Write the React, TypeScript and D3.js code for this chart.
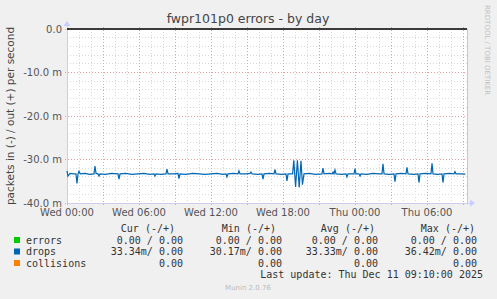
import React from "react";
import * as d3 from "d3";

const title = "fwpr101p0 errors - by day";
const yLabel = "packets in (-) / out (+) per second";
const yTicks = [0, -10, -20, -30, -40];
const yTickLabels = ["0.0", "-10.0 m", "-20.0 m", "-30.0 m", "-40.0 m"];
const xTickHours = [0, 6, 12, 18, 24, 30];
const xTickLabels = ["Wed 00:00", "Wed 06:00", "Wed 12:00", "Wed 18:00", "Thu 00:00", "Thu 06:00"];

// [hours since Wed 00:00, drops in (milli-packets/s)]
const dropsIn: [number, number][] = [
  [0.0, 32.6], [0.08, 33.8], [0.25, 33.2], [0.5, 33.3], [0.75, 33.3], [0.83, 35.5], [0.92, 33.3],
  [1.0, 32.7], [1.1, 33.3], [1.5, 33.2], [1.9, 33.4], [2.25, 33.3], [2.33, 31.5], [2.42, 33.2],
  [2.58, 33.3], [2.67, 33.8], [2.75, 33.3], [3.2, 33.4], [3.7, 33.2], [4.25, 33.3], [4.33, 34.5],
  [4.42, 33.3], [4.9, 33.2], [5.4, 33.4], [5.9, 33.3], [6.4, 33.2], [6.9, 33.4], [7.25, 33.3],
  [7.33, 33.8], [7.42, 33.3], [7.8, 33.4], [8.25, 33.3], [8.33, 32.2], [8.42, 33.3], [8.9, 33.3],
  [9.25, 33.2], [9.33, 34.4], [9.42, 33.3], [9.9, 33.4], [10.5, 33.2], [11.0, 33.3], [11.5, 33.4],
  [12.0, 33.3], [12.5, 33.2], [13.0, 33.4], [13.25, 33.3], [13.33, 34.0], [13.42, 33.3], [13.9, 33.2],
  [14.25, 33.3], [14.33, 32.6], [14.42, 33.3], [14.9, 33.3], [15.25, 33.2], [15.33, 32.9], [15.42, 33.3],
  [15.9, 33.4], [16.25, 33.3], [16.33, 34.5], [16.42, 33.3], [16.9, 33.2], [17.25, 33.3], [17.33, 32.3],
  [17.42, 33.3], [17.9, 33.4], [18.25, 33.3], [18.33, 34.9], [18.42, 33.3], [18.8, 33.3], [18.9, 30.2],
  [19.05, 36.3], [19.2, 30.17], [19.35, 36.42], [19.5, 30.3], [19.62, 35.8], [19.75, 33.3], [20.2, 33.2],
  [20.7, 33.4], [21.25, 33.3], [21.33, 32.0], [21.42, 33.3], [21.9, 33.2], [22.1, 33.3], [22.17, 32.9],
  [22.25, 33.3], [22.33, 32.4], [22.42, 33.3], [22.9, 33.4], [23.25, 33.3], [23.33, 34.0], [23.42, 33.3],
  [23.92, 33.3], [24.0, 32.1], [24.08, 33.3], [24.33, 33.3], [24.42, 33.8], [24.5, 33.3], [25.0, 33.4],
  [25.5, 33.2], [26.0, 33.3], [26.25, 33.3], [26.33, 31.0], [26.42, 33.3], [26.9, 33.4], [27.25, 33.3],
  [27.33, 35.1], [27.42, 33.3], [27.9, 33.2], [28.25, 33.3], [28.33, 31.8], [28.42, 33.3], [28.9, 33.4],
  [29.25, 33.3], [29.33, 35.3], [29.42, 33.3], [29.9, 33.2], [30.33, 33.3], [30.42, 30.9], [30.5, 33.3],
  [30.9, 33.4], [31.25, 33.3], [31.33, 35.3], [31.42, 33.3], [31.9, 33.2], [32.25, 33.3], [32.33, 32.8],
  [32.42, 33.3], [32.9, 33.3], [33.2, 33.34],
];

const legendNames = ["errors", "drops", "collisions"];
const legendColors = ["#00CC00", "#0066B3", "#FF8000"];
const legendHeaders = ["Cur (-/+)", "Min (-/+)", "Avg (-/+)", "Max (-/+)"];
const legendCur = [" 0.00 / 0.00", "33.34m/ 0.00", "0.00"];
const legendMin = [" 0.00 / 0.00", "30.17m/ 0.00", "0.00"];
const legendAvg = [" 0.00 / 0.00", "33.33m/ 0.00", "0.00"];
const legendMax = [" 0.00 / 0.00", "36.42m/ 0.00", "0.00"];
const lastUpdate = "Last update: Thu Dec 11 09:10:00 2025";
const version = "Munin 2.0.76";
const watermark = "RRDTOOL / TOBI OETIKER";

export default function App() {
  const W = 497, H = 299;
  const left = 67, right = 467, top = 29, bottom = 203;
  const x = d3.scaleLinear().domain([0, 33.3333]).range([left, right]);
  const y = d3.scaleLinear().domain([0, -40]).range([top, bottom]);

  const minorX = d3.range(0, 34, 1).filter((h) => h % 3 !== 0);
  const majorX = d3.range(0, 34, 3);
  const minorY = d3.range(0, -41, -2).filter((v) => v % 10 !== 0);
  const majorY = yTicks;

  const line = d3
    .line<[number, number]>()
    .x((d) => x(d[0]))
    .y((d) => y(-d[1]));

  const mono = "'DejaVu Sans Mono', monospace";
  const sans = "'DejaVu Sans', sans-serif";
  const colEnds = [183, 282, 378, 477];
  const headerEnds = [175, 276, 375, 475];
  const cols = [legendCur, legendMin, legendAvg, legendMax];
  const rowY = [243.5, 255, 266.5];

  return (
    <svg width={W} height={H} style={{ position: "absolute", left: 0, top: 0, display: "block" }}>
      <rect x={0} y={0} width={W} height={H} fill="#F0F0F0" />
      <rect x={left} y={top} width={right - left} height={bottom - top} fill="#FFFFFF" />

      {minorX.map((h) => (
        <line key={"mx" + h} x1={x(h)} x2={x(h)} y1={top} y2={bottom} stroke="#D8D8D8" strokeWidth={1} strokeDasharray="1,2" shapeRendering="crispEdges" />
      ))}
      {minorY.map((v) => (
        <line key={"my" + v} x1={left} x2={right} y1={y(v)} y2={y(v)} stroke="#D8D8D8" strokeWidth={1} strokeDasharray="1,2" shapeRendering="crispEdges" />
      ))}
      {majorX.map((h) => (
        <line key={"Mx" + h} x1={x(h)} x2={x(h)} y1={top - 2} y2={bottom + 2} stroke="#E8A0A0" strokeWidth={1} strokeDasharray="1,2" shapeRendering="crispEdges" />
      ))}
      {majorY.map((v) => (
        <line key={"My" + v} x1={left - 2} x2={right + 2} y1={y(v)} y2={y(v)} stroke="#E8A0A0" strokeWidth={1} strokeDasharray="1,2" shapeRendering="crispEdges" />
      ))}

      {/* axes */}
      <line x1={left} x2={right + 4} y1={bottom} y2={bottom} stroke="#CCCCEE" strokeWidth={1} shapeRendering="crispEdges" />
      <line x1={left} x2={left} y1={top - 5} y2={bottom} stroke="#CCCCEE" strokeWidth={1} shapeRendering="crispEdges" />
      <line x1={right} x2={right} y1={top} y2={bottom} stroke="#C8C8C8" strokeWidth={1} shapeRendering="crispEdges" />
      <path d={`M${right + 3},${bottom - 3.5} L${right + 8},${bottom} L${right + 3},${bottom + 3.5} Z`} fill="#C8CCFF" />
      <path d={`M${left - 3.5},${top - 3} L${left},${top - 8} L${left + 3.5},${top - 3} Z`} fill="#C8CCFF" />

      {/* zero line */}
      <line x1={left} x2={right} y1={y(0)} y2={y(0)} stroke="#000000" strokeWidth={1.5} />

      <path d={line(dropsIn) || ""} fill="none" stroke="#0066B3" strokeWidth={1.2} />

      {/* title */}
      <text x={248} y={23} textAnchor="middle" fontFamily={sans} fontSize={12.5} fill="#444">{title}</text>

      {/* y label */}
      <text transform={`translate(14,${(top + bottom) / 2}) rotate(-90)`} textAnchor="middle" fontFamily={sans} fontSize={10.5} fill="#444">{yLabel}</text>

      {yTicks.map((v, i) => (
        <text key={"yt" + v} x={left - 5} y={y(v) + 3.5} textAnchor="end" fontFamily={sans} fontSize={10} fill="#555">{yTickLabels[i]}</text>
      ))}
      {xTickHours.map((h, i) => (
        <text key={"xt" + h} x={x(h)} y={216} textAnchor="middle" fontFamily={sans} fontSize={10} fill="#555">{xTickLabels[i]}</text>
      ))}

      {/* watermark */}
      <text transform="translate(485,5) rotate(90)" fontFamily={sans} fontSize={7} fill="#C0C0C0">{watermark}</text>

      {/* legend */}
      {legendHeaders.map((hd, i) => (
        <text key={"hd" + i} x={headerEnds[i]} y={232} textAnchor="end" fontFamily={mono} fontSize={10} fill="#333" style={{ whiteSpace: "pre" }}>{hd}</text>
      ))}
      {legendNames.map((n, r) => (
        <g key={"lg" + n}>
          <rect x={14} y={rowY[r] - 6.5} width={6} height={6} fill={legendColors[r]} />
          <text x={26} y={rowY[r]} fontFamily={mono} fontSize={10} fill="#333" style={{ whiteSpace: "pre" }}>{n}</text>
          {cols.map((c, ci) => (
            <text key={"c" + ci} x={colEnds[ci]} y={rowY[r]} textAnchor="end" fontFamily={mono} fontSize={10} fill="#333" style={{ whiteSpace: "pre" }}>{c[r]}</text>
          ))}
        </g>
      ))}
      <text x={483} y={278} textAnchor="end" fontFamily={mono} fontSize={10} fill="#333" style={{ whiteSpace: "pre" }}>{lastUpdate}</text>
      <text x={248} y={290} textAnchor="middle" fontFamily={sans} fontSize={7} fill="#BBBBBB">{version}</text>
    </svg>
  );
}
